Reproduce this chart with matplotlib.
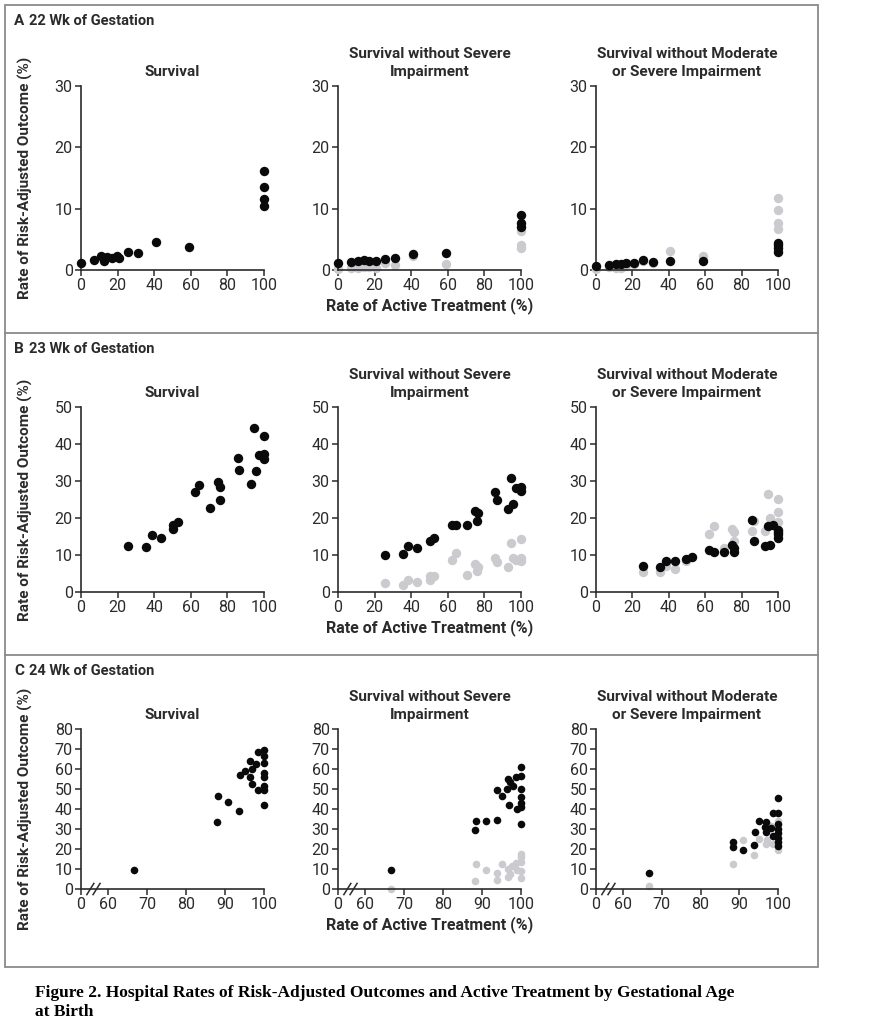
import matplotlib
matplotlib.use("Agg")
import matplotlib.pyplot as plt
from matplotlib.lines import Line2D
from matplotlib.patches import Rectangle

# ---- data (x = rate of active treatment, y = outcome) ----
# 22 weeks
a_surv_x = [0, 7.1, 10.9, 12.6, 14.4, 16.9, 19.9, 20.9, 25.9, 31.3, 41, 58.8, 100, 100, 100, 100]
a_surv_y = [1.2, 1.6, 2.3, 1.5, 2.1, 1.9, 2.3, 1.9, 3.0, 2.7, 4.6, 3.75, 16.2, 13.5, 11.6, 10.5]

a_sev_x = [0, 6.9, 10.9, 14, 16.8, 20.8, 25.7, 31.2, 41, 58.8, 100, 100, 100]
a_sev_black = [1.1, 1.25, 1.4, 1.6, 1.4, 1.5, 1.85, 2.0, 2.55, 2.8, 9.0, 7.6, 7.0]
a_sev_gx = [0, 6.9, 10.9, 14, 16.8, 20.8, 25.7, 31.2, 41, 58.8, 100, 100, 100]
a_sev_gray = [0.1, 0.4, 0.3, 0.5, 0.5, 0.4, 1.1, 0.8, 2.3, 1.0, 4.1, 3.6, 6.3]

a_mod_x = [0, 6.9, 10.8, 13.9, 16.6, 20.7, 25.6, 31.1, 40.8, 58.7, 100, 100, 100, 100]
a_mod_black = [0.7, 0.8, 1.0, 1.0, 1.1, 1.1, 1.6, 1.25, 1.5, 1.5, 4.35, 4.0, 3.6, 3.0]
a_mod_gx = [0, 6.9, 10.8, 13.9, 16.6, 20.7, 25.6, 31.1, 40.8, 58.7, 100, 100, 100, 100, 100]
a_mod_gray = [0.1, 0.5, 0.4, 0.4, 0.6, 1.0, 1.4, 1.1, 3.1, 2.3, 11.8, 9.8, 7.6, 6.7, 3.3]

# 23 weeks
b_surv_x = [25.9, 35.3, 38.6, 43.7, 50.1, 50.1, 52.8, 62.1, 64.7, 70.3, 74.9, 76, 75.8,
            85.6, 86.5, 92.7, 94.5, 95.4, 97.1, 100, 100, 100]
b_surv_y = [12.5, 12.2, 15.4, 14.7, 17.0, 18.0, 19.0, 26.9, 28.8, 22.6, 29.6, 28.3, 25.0,
            36.3, 33.0, 29.1, 44.3, 32.8, 37.0, 42.1, 37.3, 35.9]

b_sev_x = [25.9, 35.4, 38.5, 43.4, 50, 52.7, 62.2, 64.6, 70.4, 74.8, 76.3, 75.7,
           85.8, 86.7, 92.9, 94.5, 95.4, 97.3, 100, 100]
b_sev_black = [10.0, 10.3, 12.3, 12.0, 13.7, 14.6, 18.1, 18.1, 18.1, 21.8, 21.4, 19.3,
               27.1, 24.8, 22.4, 30.9, 23.7, 28.0, 28.3, 27.4]
b_sev_gx = [25.9, 35.4, 38.5, 43.4, 50, 50, 52.7, 62.2, 64.6, 70.4, 74.8, 76.3, 75.7,
            85.8, 86.7, 92.9, 94.5, 95.4, 97.3, 100, 100, 100]
b_sev_gray = [2.5, 2.0, 3.2, 2.7, 3.3, 4.2, 4.4, 8.7, 10.6, 4.5, 7.7, 6.7, 5.6,
              9.3, 8.2, 6.7, 13.3, 9.2, 8.7, 14.4, 9.2, 8.4]

b_mod_x = [25.8, 35.3, 38.6, 43.5, 49.7, 52.7, 62.2, 64.7, 70.4, 74.9, 76, 75.7,
           85.7, 86.7, 92.9, 94.5, 95.6, 97.4, 100, 100, 100, 100]
b_mod_black = [7.0, 6.7, 8.4, 8.4, 8.9, 9.5, 11.3, 10.8, 10.8, 12.7, 11.8, 10.9,
               19.5, 13.7, 12.4, 17.9, 12.8, 18.2, 16.8, 16.3, 15.7, 14.6]
b_mod_gx = [25.8, 35.3, 38.6, 43.5, 49.7, 52.7, 62.2, 64.7, 70.4, 74.9, 76, 75.7,
            85.7, 86.7, 92.9, 94.5, 95.6, 97.4, 100, 100, 100, 100]
b_mod_gray = [5.4, 5.4, 7.1, 6.1, 8.4, 9.5, 15.6, 17.8, 11.8, 16.9, 16.3, 13.8,
              16.6, 19.3, 16.6, 26.4, 19.9, 18.1, 25.1, 21.5, 19.0, 14.9]

# 24 weeks (x axis broken between 0 and 60)
c_surv_x = [66.6, 88.2, 88.0, 90.8, 93.6, 93.8, 95.0, 96.5, 96.9, 96.5, 96.8, 98.0, 98.5,
            98.5, 100, 100, 100, 100, 100, 100, 100, 100]
c_surv_y = [9.5, 46.3, 33.5, 43.7, 38.8, 57.0, 58.8, 64.2, 60.0, 56.2, 52.5, 62.5, 68.7,
            49.3, 69.7, 66.5, 63.2, 58.0, 55.8, 51.7, 49.5, 42.2]

c_sev_x = [66.7, 88.2, 88.5, 90.9, 93.8, 93.8, 95.1, 96.7, 97.1, 96.5, 96.9, 98.0, 98.7,
           98.9, 100, 100, 100, 100, 100, 100, 100]
c_sev_black = [9.5, 29.7, 34.2, 34.2, 34.3, 49.3, 46.7, 55.2, 53.5, 50.0, 41.8, 51.3, 56.0,
               40.2, 61.2, 56.3, 50.0, 46.0, 43.0, 40.8, 32.3]
c_sev_gx = [66.7, 88.2, 88.5, 90.9, 93.8, 93.8, 95.1, 96.7, 97.1, 96.7, 97.7, 98.7, 98.9,
            100, 100, 100, 100, 100]
c_sev_gray = [0.0, 4.0, 12.5, 9.7, 8.0, 4.7, 12.5, 6.0, 7.3, 10.2, 11.3, 13.0, 9.7,
              17.7, 16.0, 13.3, 8.8, 5.3]

c_mod_x = [66.7, 88.3, 88.5, 91.0, 93.8, 94.0, 95.2, 96.8, 97.0, 96.6, 98.2, 98.6, 98.7,
           100, 100, 100, 100, 100, 100, 100, 100]
c_mod_black = [7.8, 21.2, 23.5, 19.3, 22.0, 28.3, 34.2, 33.3, 28.5, 31.0, 30.5, 38.0, 26.5,
               45.3, 38.2, 32.7, 30.2, 28.0, 25.7, 23.3, 21.5]
c_mod_gx = [66.7, 88.3, 91.0, 93.8, 95.2, 96.8, 97.2, 98.6, 98.2, 100, 100]
c_mod_gray = [1.7, 12.5, 24.3, 16.8, 24.8, 22.5, 24.3, 22.5, 31.3, 19.5, 34.0]

titles = ["Survival", "Survival without Severe\nImpairment",
          "Survival without Moderate\nor Severe Impairment"]
row_labels = [("A", "22 Wk of Gestation"), ("B", "23 Wk of Gestation"),
              ("C", "24 Wk of Gestation")]
a_yticks = [0, 10, 20, 30]
b_yticks = [0, 10, 20, 30, 40, 50]
c_yticks = [0, 10, 20, 30, 40, 50, 60, 70, 80]
ab_xticks = [0, 20, 40, 60, 80, 100]
c_xticks = [53, 60, 70, 80, 90, 100]
c_xticklabels = ["0", "60", "70", "80", "90", "100"]

rows = [
    [(a_surv_x, a_surv_y, None, None),
     (a_sev_x, a_sev_black, a_sev_gx, a_sev_gray),
     (a_mod_x, a_mod_black, a_mod_gx, a_mod_gray)],
    [(b_surv_x, b_surv_y, None, None),
     (b_sev_x, b_sev_black, b_sev_gx, b_sev_gray),
     (b_mod_x, b_mod_black, b_mod_gx, b_mod_gray)],
    [(c_surv_x, c_surv_y, None, None),
     (c_sev_x, c_sev_black, c_sev_gx, c_sev_gray),
     (c_mod_x, c_mod_black, c_mod_gx, c_mod_gray)],
]

plt.rcParams["font.family"] = ["Roboto", "DejaVu Sans"]
TXT = "#2b2b2b"
BLACK = "#0a0a0a"
GRAY = "#cbcbcf"

W, H = 876, 1024
fig = plt.figure(figsize=(W / 100, H / 100), dpi=100)


def px_rect(x0, y0, x1, y1):
    # pixel box (top-left origin) -> figure fraction
    return [x0 / W, 1 - y1 / H, (x1 - x0) / W, (y1 - y0) / H]


col_px = [(81, 264), (338, 521), (596, 778)]
row_px = [(86, 270), (407, 592), (729, 889)]
row_ylim = [(0, 30), (0, 50), (0, 80)]
row_yticks = [a_yticks, b_yticks, c_yticks]
row_msize = [46, 46, 30]
header_y = [21, 349, 671]

# outer frame and separators
fig.add_artist(Rectangle((5 / W, 1 - 967 / H), 813 / W, 962 / H, transform=fig.transFigure,
                         fill=False, edgecolor="#8a8a8a", linewidth=1.3))
for yy in (333, 655):
    fig.add_artist(Line2D([5 / W, 818 / W], [1 - yy / H, 1 - yy / H],
                          transform=fig.transFigure, color="#8a8a8a", linewidth=1.3))

for r, row in enumerate(rows):
    y0, y1 = row_px[r]
    fig.text(14 / W, 1 - header_y[r] / H, row_labels[r][0], fontsize=11, fontweight="bold",
             color=TXT, va="center", ha="left")
    fig.text(29 / W, 1 - header_y[r] / H, row_labels[r][1], fontsize=10.5, fontweight="bold",
             color=TXT, va="center", ha="left")
    for c, (bx, by, gx, gy) in enumerate(row):
        x0, x1 = col_px[c]
        ax = fig.add_axes(px_rect(x0, y0, x1, y1))
        if gx is not None:
            ax.scatter(gx, gy, s=row_msize[r], color=GRAY, linewidths=0, clip_on=False, zorder=2)
        ax.scatter(bx, by, s=row_msize[r], color=BLACK, linewidths=0, clip_on=False, zorder=3)

        ax.set_ylim(*row_ylim[r])
        ax.set_yticks(row_yticks[r])
        if r < 2:
            ax.set_xlim(0, 100)
            ax.set_xticks(ab_xticks)
        else:
            ax.set_xlim(53, 100)
            ax.set_xticks(c_xticks)
            ax.set_xticklabels(c_xticklabels)
            # axis break marks
            for bxm in (55.4, 57.0):
                ax.plot([bxm - 0.9, bxm + 0.9], [-0.035, 0.035], color=TXT, linewidth=1.1,
                        transform=ax.get_xaxis_transform(), clip_on=False, zorder=4)

        for side in ("top", "right"):
            ax.spines[side].set_visible(False)
        for side in ("left", "bottom"):
            ax.spines[side].set_color(TXT)
            ax.spines[side].set_linewidth(1.2)
        ax.tick_params(direction="out", length=4, width=1.1, color=TXT,
                       labelsize=11.5, labelcolor=TXT, pad=2)
        ax.set_facecolor("none")

        ax.set_title(titles[c], fontsize=11, fontweight="bold", color=TXT, pad=7,
                     linespacing=1.4)
        if c == 0:
            ax.set_ylabel("Rate of Risk-Adjusted Outcome (%)", fontsize=11,
                          fontweight="bold", color=TXT)
            ax.yaxis.set_label_coords(-48 / (x1 - x0), 0.5)
        if c == 1:
            ax.set_xlabel("Rate of Active Treatment (%)", fontsize=11.5,
                          fontweight="bold", color=TXT)
            ax.xaxis.set_label_coords(0.5, -27 / (y1 - y0))

fig.text(35 / W, 1 - 993 / H, "Figure 2. Hospital Rates of Risk-Adjusted Outcomes and Active "
         "Treatment by Gestational Age", fontsize=12.5, fontweight="bold",
         family=["Liberation Serif", "DejaVu Serif"], va="center", ha="left", color="black")
fig.text(35 / W, 1 - 1012 / H, "at Birth", fontsize=12.5, fontweight="bold",
         family=["Liberation Serif", "DejaVu Serif"], va="center", ha="left", color="black")

fig.savefig("out.png", dpi=100, facecolor="white")
